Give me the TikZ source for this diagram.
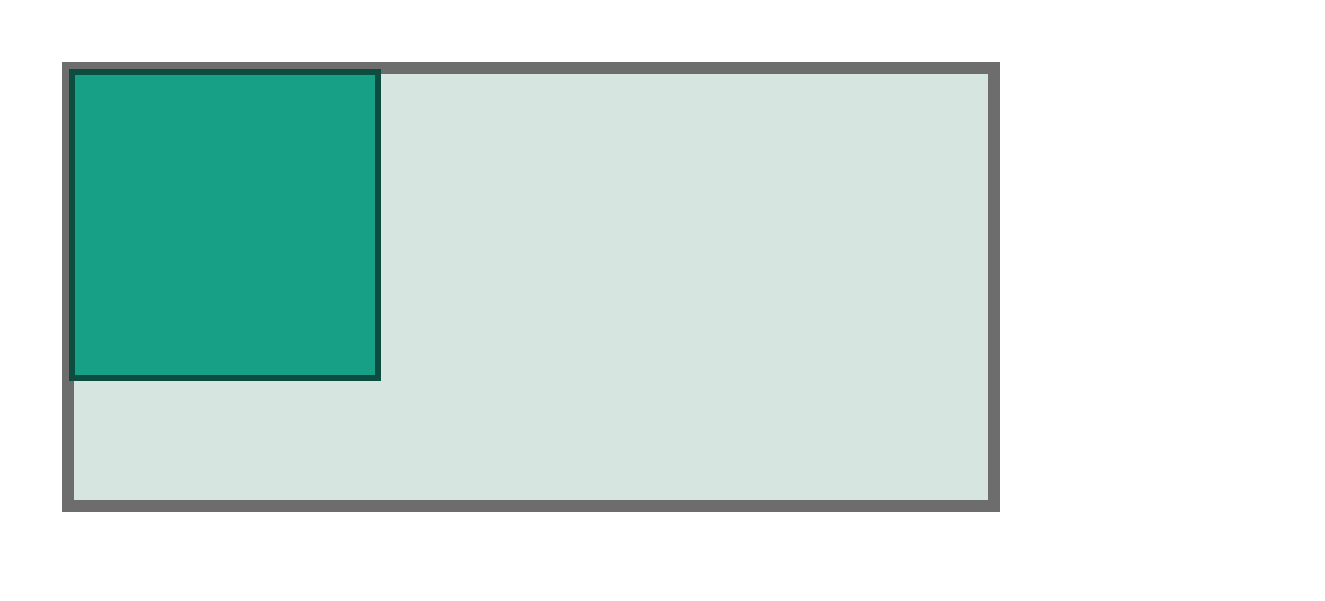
\documentclass[tikz,border=0pt]{standalone}
\usepackage{tikz}
\definecolor{framegray}{HTML}{6D6D6D}
\definecolor{lightfill}{HTML}{D6E5DF}
\definecolor{seagreen}{HTML}{17A085}
\definecolor{darkgreen}{HTML}{0D4D40}
\begin{document}
\begin{tikzpicture}[x=1pt,y=-1pt,
  outerbox/.style={draw=framegray,fill=lightfill,line width=12pt,minimum width=926pt,minimum height=438pt,inner sep=0pt,outer sep=0pt},
  innerbox/.style={draw=darkgreen,fill=seagreen,line width=5.5pt,minimum width=306pt,minimum height=306pt,inner sep=0pt,outer sep=0pt}]
\useasboundingbox (0,0) rectangle (1325,600);
\node[outerbox] (outer) at (531,287) {};
\node[innerbox] (inner) at (225,225) {};
\end{tikzpicture}
\end{document}
